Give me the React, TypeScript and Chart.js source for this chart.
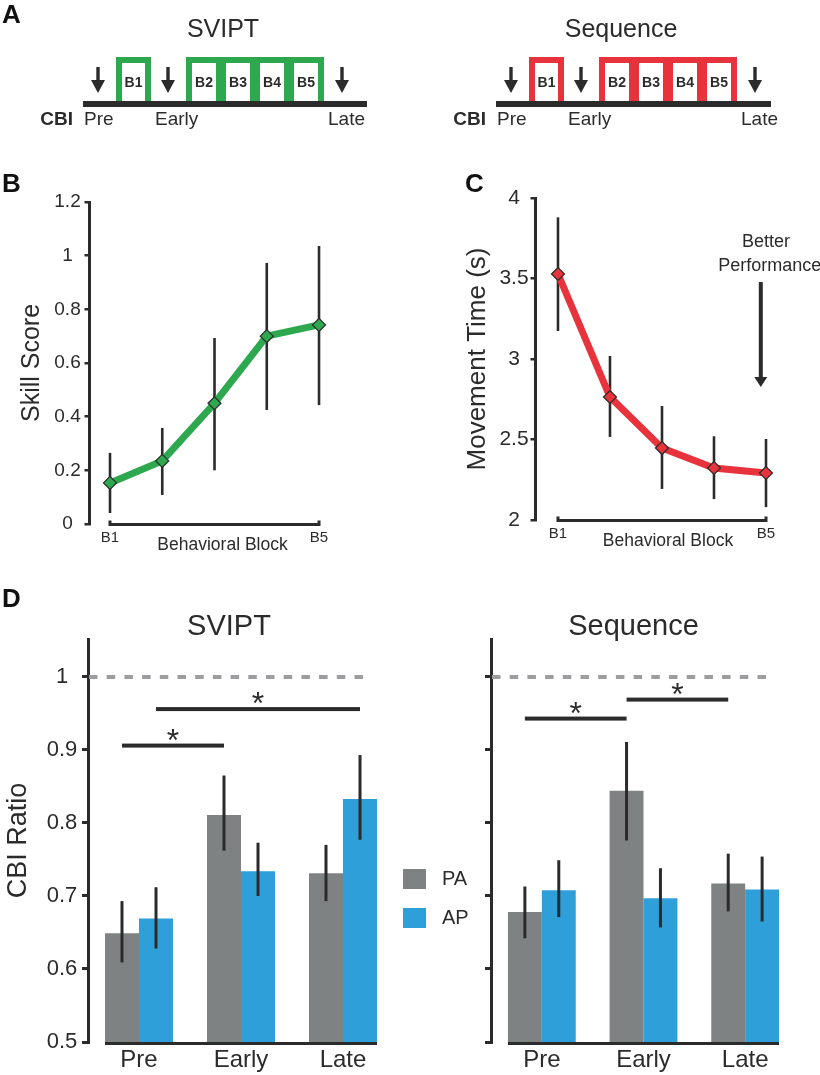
import React, { useEffect, useRef } from "react";
import { Chart, registerables } from "chart.js";

Chart.register(...registerables);

const FONT = '"Liberation Sans", Arial, Helvetica, sans-serif';
const INK = "#2b2b2b";
const GREEN = "#2ea84f";
const RED = "#e8333c";
const GRAY_BAR = "#7f8283";
const BLUE_BAR = "#2f9fd9";
const DASH = "#9c9da0";

// ---------- Panel A (schematic) ----------
const schematicTitles = ["SVIPT", "Sequence"];
const blockLabels = ["B1", "B2", "B3", "B4", "B5"];
const cbiTimepoints = ["Pre", "Early", "Late"];

// ---------- Panel B ----------
const blocks = [1, 2, 3, 4, 5];
const skillMean = [0.153, 0.235, 0.45, 0.7, 0.742];
const skillLow = [0.041, 0.108, 0.2, 0.425, 0.443];
const skillHigh = [0.265, 0.358, 0.693, 0.973, 1.036];
const skillTicks = [0, 0.2, 0.4, 0.6, 0.8, 1, 1.2];

// ---------- Panel C ----------
const mtMean = [3.528, 2.764, 2.447, 2.323, 2.292];
const mtLow = [3.174, 2.516, 2.193, 2.13, 2.08];
const mtHigh = [3.88, 3.019, 2.708, 2.52, 2.503];
const mtTicks = [2, 2.5, 3, 3.5, 4];

// ---------- Panel D ----------
const cbiCategories = ["Pre", "Early", "Late"];
const cbiSeries = ["PA", "AP"];
const cbiTicks = [0.5, 0.6, 0.7, 0.8, 0.9, 1];
const cbiReference = 1;

const svPA = [0.649, 0.811, 0.731];
const svAP = [0.669, 0.734, 0.833];
const svPALow = [0.609, 0.762, 0.693];
const svPAHigh = [0.693, 0.865, 0.77];
const svAPLow = [0.628, 0.7, 0.777];
const svAPHigh = [0.712, 0.773, 0.893];

const seqPA = [0.678, 0.844, 0.717];
const seqAP = [0.708, 0.697, 0.709];
const seqPALow = [0.642, 0.776, 0.679];
const seqPAHigh = [0.713, 0.911, 0.758];
const seqAPLow = [0.671, 0.657, 0.665];
const seqAPHigh = [0.749, 0.738, 0.754];

// significance: [datasetIndex, categoryIndex] from -> to, at level
const svSig = [
  { from: [0, 0], to: [0, 1], level: 0.906 },
  { from: [1, 0], to: [1, 2], level: 0.956 },
];
const seqSig = [
  { from: [0, 0], to: [0, 1], level: 0.943 },
  { from: [0, 1], to: [0, 2], level: 0.969 },
];

// ---------- helpers ----------
function drawText(ctx: any, str: string, x: number, y: number, size: number, o: any = {}) {
  ctx.save();
  ctx.font = `${o.bold ? "bold " : ""}${size}px ${FONT}`;
  ctx.fillStyle = o.color || INK;
  ctx.textAlign = o.align || "left";
  ctx.textBaseline = o.baseline || "alphabetic";
  ctx.fillText(str, x, y);
  ctx.restore();
}

function drawDownArrow(ctx: any, x: number, yTop: number, yTip: number, shaftW: number, headW: number, headH: number) {
  ctx.save();
  ctx.fillStyle = INK;
  ctx.fillRect(x - shaftW / 2, yTop, shaftW, yTip - headH - yTop + 1);
  ctx.beginPath();
  ctx.moveTo(x - headW / 2, yTip - headH);
  ctx.lineTo(x + headW / 2, yTip - headH);
  ctx.lineTo(x, yTip);
  ctx.closePath();
  ctx.fill();
  ctx.restore();
}

const baseOptions = {
  animation: false,
  responsive: false,
  maintainAspectRatio: false,
  devicePixelRatio: 1,
  events: [],
};

const fmt = (v: any) => String(Number(Number(v).toFixed(2)));

// ---------- Panel A ----------
const SCHEM_ORIGIN = [83, 496];
const SCHEM_LENGTH = [284, 275];
const SCHEM_TITLE_X = [223, 621];
const SCHEM_COLORS = [GREEN, RED];
const ARROW_OFFSETS = [15, 85, 259];
const LABEL_OFFSETS = [1, 72, 245];

const panelAPlugin = {
  id: "panelA",
  afterDraw(chart: any) {
    const { ctx } = chart;
    const X = chart.scales.x;
    const Y = chart.scales.y;
    const px = (v: number) => X.getPixelForValue(v);
    const py = (v: number) => Y.getPixelForValue(v);
    const rect = (x0: number, y0: number, x1: number, y1: number, c: string) => {
      ctx.fillStyle = c;
      ctx.fillRect(px(x0), py(y0), px(x1) - px(x0), py(y1) - py(y0));
    };
    ctx.save();
    drawText(ctx, "A", px(2), py(23), 26, { bold: true, color: "#111" });
    schematicTitles.forEach((title, p) => {
      const o = SCHEM_ORIGIN[p];
      const col = SCHEM_COLORS[p];
      drawText(ctx, title, px(SCHEM_TITLE_X[p]), py(37), 25, { align: "center" });
      // B1 box
      rect(o + 33, 57, o + 68, 101, col);
      rect(o + 39, 63, o + 62, 101, "#fff");
      drawText(ctx, blockLabels[0], px(o + 50.5), py(87), 14, { bold: true, align: "center" });
      // B2..B5 box
      rect(o + 103, 57, o + 241, 101, col);
      for (let k = 0; k < 4; k++) {
        const cx = o + 109 + 34 * k;
        rect(cx, 63, cx + 24, 101, "#fff");
        drawText(ctx, blockLabels[k + 1], px(cx + 12), py(87), 14, { bold: true, align: "center" });
      }
      // timeline
      rect(o, 101, o + SCHEM_LENGTH[p], 107, INK);
      // arrows
      ARROW_OFFSETS.forEach((a) => drawDownArrow(ctx, px(o + a), py(67), py(93), 3.4, 14, 13));
      // labels
      drawText(ctx, "CBI", px(o - 10), py(125), 19, { bold: true, align: "right" });
      cbiTimepoints.forEach((t, i) => drawText(ctx, t, px(o + LABEL_OFFSETS[i]), py(125), 19));
    });
    ctx.restore();
  },
};

function schematicConfig() {
  return {
    type: "scatter",
    data: { datasets: [] },
    options: {
      ...baseOptions,
      layout: { padding: 0 },
      plugins: { legend: { display: false }, tooltip: { enabled: false } },
      scales: {
        x: { type: "linear", min: 0, max: 820, display: false },
        y: { type: "linear", min: 0, max: 150, reverse: true, display: false },
      },
    },
    plugins: [panelAPlugin],
  };
}

// ---------- Panels B & C ----------
function lineErrorPlugin(xs: number[], low: number[], high: number[]) {
  return {
    id: "lineErrors",
    beforeDatasetsDraw(chart: any) {
      const { ctx } = chart;
      const X = chart.scales.x;
      const Y = chart.scales.y;
      ctx.save();
      ctx.strokeStyle = INK;
      ctx.lineWidth = 2.6;
      xs.forEach((xv, i) => {
        const x = X.getPixelForValue(xv);
        ctx.beginPath();
        ctx.moveTo(x, Y.getPixelForValue(low[i]));
        ctx.lineTo(x, Y.getPixelForValue(high[i]));
        ctx.stroke();
      });
      ctx.restore();
    },
  };
}

function bracketPlugin(letter: string, letterX: number, titleShift: number, extra?: (chart: any) => void) {
  return {
    id: "bracket",
    afterDraw(chart: any) {
      const { ctx, chartArea } = chart;
      const X = chart.scales.x;
      const x0 = X.getPixelForValue(blocks[0]);
      const x1 = X.getPixelForValue(blocks[blocks.length - 1]);
      const yb = chartArea.bottom + 0.5;
      ctx.save();
      ctx.strokeStyle = INK;
      ctx.lineWidth = 3;
      ctx.beginPath();
      ctx.moveTo(x0, yb - 4);
      ctx.lineTo(x0, yb);
      ctx.lineTo(x1, yb);
      ctx.lineTo(x1, yb - 4);
      ctx.stroke();
      ctx.restore();
      const mid = X.getPixelForValue(blocks[2]);
      drawText(ctx, "Behavioral Block", mid + titleShift, chartArea.bottom + 26, 17.5, { align: "center" });
      drawText(ctx, letter, letterX, 42, 26, { bold: true, color: "#111" });
      if (extra) extra(chart);
    },
  };
}

function lineConfig(p: any) {
  return {
    type: "line",
    data: {
      datasets: [
        {
          label: p.label,
          data: blocks.map((b, i) => ({ x: b, y: p.mean[i] })),
          borderColor: p.color,
          backgroundColor: p.color,
          borderWidth: 7,
          tension: 0,
          fill: false,
          pointStyle: "rectRot",
          pointRadius: 6.5,
          pointBackgroundColor: p.color,
          pointBorderColor: INK,
          pointBorderWidth: 1.2,
          clip: false,
        },
      ],
    },
    options: {
      ...baseOptions,
      layout: { padding: { top: p.padTop, right: p.padRight, left: 0, bottom: 0 } },
      plugins: { legend: { display: false }, tooltip: { enabled: false } },
      scales: {
        x: {
          type: "linear",
          min: p.xMin,
          max: p.xMax,
          grid: { display: false, drawTicks: false },
          border: { display: false },
          afterBuildTicks: (s: any) => {
            s.ticks = [blocks[0], blocks[blocks.length - 1]].map((v) => ({ value: v }));
          },
          ticks: {
            autoSkip: false,
            maxRotation: 0,
            padding: 5,
            color: INK,
            font: { family: FONT, size: 15 },
            callback: (v: any) => blockLabels[blocks.indexOf(Number(v))],
          },
          afterFit: (s: any) => {
            s.height = p.xHeight;
          },
        },
        y: {
          type: "linear",
          min: p.yMin,
          max: p.yMax,
          afterBuildTicks: (s: any) => {
            s.ticks = p.ticks.map((v: number) => ({ value: v }));
          },
          ticks: {
            color: INK,
            font: { family: FONT, size: p.tickSize },
            padding: p.tickPad,
            crossAlign: "center",
            callback: fmt,
          },
          grid: { drawOnChartArea: false, drawTicks: true, tickLength: 4.5, color: INK, lineWidth: 2.5 },
          border: { display: true, width: 3, color: INK },
          title: {
            display: true,
            text: p.title,
            color: INK,
            font: { family: FONT, size: p.titleSize },
            padding: { top: p.titlePad, bottom: 0 },
          },
          afterFit: (s: any) => {
            s.width = p.yWidth;
          },
        },
      },
    },
    plugins: [lineErrorPlugin(blocks, p.low, p.high), bracketPlugin(p.letter, p.letterX, p.titleShift, p.extra)],
  };
}

const betterPerformance = (chart: any) => {
  const { ctx } = chart;
  const X = chart.scales.x;
  const Y = chart.scales.y;
  drawText(ctx, "Better", X.getPixelForValue(5), Y.getPixelForValue(3.696), 18, { align: "center" });
  drawText(ctx, "Performance", X.getPixelForValue(4.08), Y.getPixelForValue(3.547), 18);
  drawDownArrow(ctx, X.getPixelForValue(4.9), Y.getPixelForValue(3.478), Y.getPixelForValue(2.826), 4, 13, 10);
};

// ---------- Panel D ----------
function barErrorPlugin(lows: number[][], highs: number[][]) {
  return {
    id: "barErrors",
    afterDatasetsDraw(chart: any) {
      const { ctx } = chart;
      const Y = chart.scales.y;
      ctx.save();
      ctx.strokeStyle = INK;
      ctx.lineWidth = 3;
      chart.data.datasets.forEach((_: any, d: number) => {
        chart.getDatasetMeta(d).data.forEach((el: any, i: number) => {
          ctx.beginPath();
          ctx.moveTo(el.x, Y.getPixelForValue(lows[d][i]));
          ctx.lineTo(el.x, Y.getPixelForValue(highs[d][i]));
          ctx.stroke();
        });
      });
      ctx.restore();
    },
  };
}

function barDecorPlugin(p: any) {
  return {
    id: "barDecor",
    afterDraw(chart: any) {
      const { ctx, chartArea } = chart;
      const X = chart.scales.x;
      const Y = chart.scales.y;
      const metas = chart.data.datasets.map((_: any, d: number) => chart.getDatasetMeta(d));
      const first = metas[0].data[0];
      const lastMeta = metas[metas.length - 1];
      const last = lastMeta.data[lastMeta.data.length - 1];
      ctx.save();
      // bottom axis line under bars
      ctx.fillStyle = INK;
      const bx0 = first.x - first.width / 2;
      const bx1 = last.x + last.width / 2;
      ctx.fillRect(bx0, chartArea.bottom, bx1 - bx0, 3);
      // dashed reference
      ctx.strokeStyle = DASH;
      ctx.lineWidth = 4;
      ctx.setLineDash([8.5, 9.2]);
      const yr = Y.getPixelForValue(cbiReference);
      ctx.beginPath();
      ctx.moveTo(chartArea.left + 1, yr);
      ctx.lineTo(X.getPixelForValue(2.28), yr);
      ctx.stroke();
      ctx.setLineDash([]);
      // significance
      p.sig.forEach((s: any) => {
        const a = metas[s.from[0]].data[s.from[1]].x;
        const b = metas[s.to[0]].data[s.to[1]].x;
        const yy = Y.getPixelForValue(s.level);
        ctx.fillStyle = INK;
        ctx.fillRect(a, yy - 2, b - a, 4);
        drawText(ctx, "*", (a + b) / 2, yy + 5, 32, { align: "center" });
      });
      // title
      drawText(ctx, p.title, (chartArea.left + chartArea.right) / 2 + p.titleShift, 55, 29, { align: "center" });
      if (p.letter) drawText(ctx, p.letter, 2, 27, 26, { bold: true, color: "#111" });
      if (p.legend) {
        chart.data.datasets.forEach((ds: any, i: number) => {
          const top = 289 + i * 39;
          ctx.fillStyle = ds.backgroundColor;
          ctx.fillRect(chartArea.right + 9, top, 23, 20);
          drawText(ctx, ds.label, chartArea.right + 48, top + 10, 20, { baseline: "middle" });
        });
      }
      ctx.restore();
    },
  };
}

function barConfig(p: any) {
  return {
    type: "bar",
    data: {
      labels: cbiCategories,
      datasets: [
        { label: cbiSeries[0], data: p.pa, backgroundColor: GRAY_BAR, borderWidth: 0, categoryPercentage: 0.667, barPercentage: 1 },
        { label: cbiSeries[1], data: p.ap, backgroundColor: BLUE_BAR, borderWidth: 0, categoryPercentage: 0.667, barPercentage: 1 },
      ],
    },
    options: {
      ...baseOptions,
      layout: { padding: { top: 59, right: p.padRight, left: 0, bottom: 0 } },
      plugins: { legend: { display: false }, tooltip: { enabled: false } },
      scales: {
        x: {
          type: "category",
          grid: { display: false, drawTicks: false },
          border: { display: false },
          ticks: { color: INK, font: { family: FONT, size: 24 }, padding: 4, maxRotation: 0 },
          afterFit: (s: any) => {
            s.height = 33;
          },
        },
        y: {
          type: "linear",
          min: 0.5,
          max: 1.052,
          afterBuildTicks: (s: any) => {
            s.ticks = cbiTicks.map((v) => ({ value: v }));
          },
          ticks: {
            display: p.showTicks,
            color: INK,
            font: { family: FONT, size: 22 },
            padding: 4.7,
            crossAlign: "center",
            callback: fmt,
          },
          grid: { drawOnChartArea: false, drawTicks: true, tickLength: 6, color: INK, lineWidth: 3 },
          border: { display: true, width: 3, color: INK },
          title: {
            display: p.showTicks,
            text: "CBI Ratio",
            color: INK,
            font: { family: FONT, size: 27 },
            padding: { top: 2.8, bottom: 0 },
          },
          afterFit: (s: any) => {
            s.width = p.yWidth;
          },
        },
      },
    },
    plugins: [barErrorPlugin(p.lows, p.highs), barDecorPlugin(p)],
  };
}

// ---------- React ----------
function ChartBox({ left, top, width, height, make }: { left: number; top: number; width: number; height: number; make: () => any }) {
  const ref = useRef<HTMLCanvasElement | null>(null);
  useEffect(() => {
    const chart = new Chart(ref.current as HTMLCanvasElement, make());
    return () => chart.destroy();
  }, []);
  return (
    <canvas
      ref={ref}
      width={width}
      height={height}
      style={{ position: "absolute", left, top, width, height, display: "block" }}
    />
  );
}

export default function App() {
  return (
    <div style={{ position: "absolute", left: 0, top: 0, width: 820, height: 1075, background: "#fff", overflow: "hidden" }}>
      <ChartBox left={0} top={0} width={820} height={150} make={schematicConfig} />
      <ChartBox
        left={0}
        top={150}
        width={410}
        height={430}
        make={() =>
          lineConfig({
            label: "Skill Score",
            title: "Skill Score",
            mean: skillMean,
            low: skillLow,
            high: skillHigh,
            color: GREEN,
            ticks: skillTicks,
            yMin: 0,
            yMax: 1.2,
            xMin: 0.598,
            xMax: 5.038,
            padTop: 52,
            padRight: 89,
            xHeight: 56,
            yWidth: 89,
            tickSize: 19,
            tickPad: 3.8,
            titleSize: 25,
            titlePad: 17.5,
            letter: "B",
            letterX: 2,
            titleShift: 8,
          })
        }
      />
      <ChartBox
        left={410}
        top={150}
        width={410}
        height={430}
        make={() =>
          lineConfig({
            label: "Movement Time",
            title: "Movement Time (s)",
            mean: mtMean,
            low: mtLow,
            high: mtHigh,
            color: RED,
            ticks: mtTicks,
            yMin: 2,
            yMax: 4,
            xMin: 0.558,
            xMax: 5.077,
            padTop: 48,
            padRight: 50,
            xHeight: 60,
            yWidth: 125,
            tickSize: 21,
            tickPad: 1.9,
            titleSize: 26,
            titlePad: 52.4,
            letter: "C",
            letterX: 55,
            titleShift: 6,
            extra: betterPerformance,
          })
        }
      />
      <ChartBox
        left={0}
        top={580}
        width={480}
        height={495}
        make={() =>
          barConfig({
            pa: svPA,
            ap: svAP,
            lows: [svPALow, svAPLow],
            highs: [svPAHigh, svAPHigh],
            sig: svSig,
            title: "SVIPT",
            titleShift: -12,
            padRight: 86,
            yWidth: 88,
            showTicks: true,
            letter: "D",
            legend: true,
          })
        }
      />
      <ChartBox
        left={480}
        top={580}
        width={340}
        height={495}
        make={() =>
          barConfig({
            pa: seqPA,
            ap: seqAP,
            lows: [seqPALow, seqAPLow],
            highs: [seqPAHigh, seqAPHigh],
            sig: seqSig,
            title: "Sequence",
            titleShift: -10,
            padRight: 24,
            yWidth: 11,
            showTicks: false,
            letter: "",
            legend: false,
          })
        }
      />
    </div>
  );
}
